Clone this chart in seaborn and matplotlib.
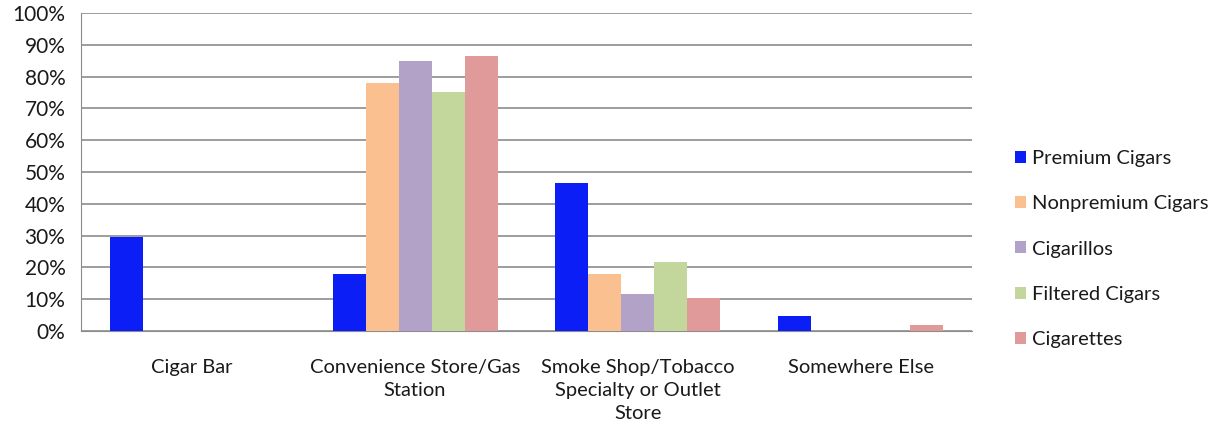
import numpy as np
import pandas as pd
import seaborn as sns
import matplotlib.pyplot as plt
from matplotlib.ticker import PercentFormatter, FixedLocator

# values (percent)
places = ['Cigar Bar', 'Convenience Store/Gas\nStation',
          'Smoke Shop/Tobacco\nSpecialty or Outlet\nStore', 'Somewhere Else']
products = ['Premium Cigars', 'Nonpremium Cigars', 'Cigarillos',
            'Filtered Cigars', 'Cigarettes']
premium = [29.5, 18.1, 46.6, 4.8]
nonpremium = [0, 77.9, 18.1, 0]
cigarillos = [0, 84.9, 11.6, 0]
filtered = [0, 75.0, 21.8, 0]
cigarettes = [0, 86.5, 10.3, 1.9]
colors = ['#0a1ef5', '#fac090', '#b3a2c7', '#c3d69b', '#e09a9a']

rows = []
for prod, vals in zip(products, [premium, nonpremium, cigarillos, filtered, cigarettes]):
    for place, v in zip(places, vals):
        rows.append({'place': place, 'product': prod, 'pct': v})
df = pd.DataFrame(rows)

sns.set_style('white')
plt.rcParams['font.family'] = ['Lato', 'DejaVu Sans']
plt.rcParams['text.color'] = '#1a1a1a'
fs = 14.5

fig = plt.figure(figsize=(12.23, 4.30), dpi=100)
ax = fig.add_axes([0.066, 0.23, 0.729, 0.74])
sns.barplot(data=df, x='place', y='pct', hue='product', order=places,
            hue_order=products, palette=colors, width=0.74, gap=0,
            saturation=1, linewidth=0, ax=ax, zorder=3)

ax.set_ylim(0, 100)
ax.set_xlim(-0.5, 3.5)
ax.yaxis.set_major_locator(FixedLocator(np.arange(0, 101, 10)))
ax.yaxis.set_major_formatter(PercentFormatter(decimals=0))
ax.yaxis.grid(True, color='#8c8c8c', linewidth=1.2, zorder=0)
ax.set_axisbelow(True)
for s in ['top', 'right']:
    ax.spines[s].set_visible(False)
ax.spines['left'].set_color('#8c8c8c')
ax.spines['bottom'].set_color('#8c8c8c')
ax.tick_params(axis='y', length=7, color='#8c8c8c', labelsize=fs + 0.5, pad=4,
               labelcolor='#1a1a1a')
ax.tick_params(axis='x', length=0, labelsize=fs, pad=20, labelcolor='#1a1a1a')
ax.set_xticks(range(len(places)))
ax.set_xticklabels(places, linespacing=1.45)
# small ticks between categories
ax.set_xticks([0.5, 1.5, 2.5, 3.5], minor=True)
ax.tick_params(axis='x', which='minor', length=5, color='#8c8c8c')
ax.set_xlabel('')
ax.set_ylabel('')

ax.legend(loc='center left', bbox_to_anchor=(1.048, 0.258), frameon=False,
          fontsize=fs, handlelength=0.55, handleheight=0.55,
          handletextpad=0.3, labelspacing=1.4, borderpad=0, borderaxespad=0)

fig.savefig('out.png', dpi=100)
